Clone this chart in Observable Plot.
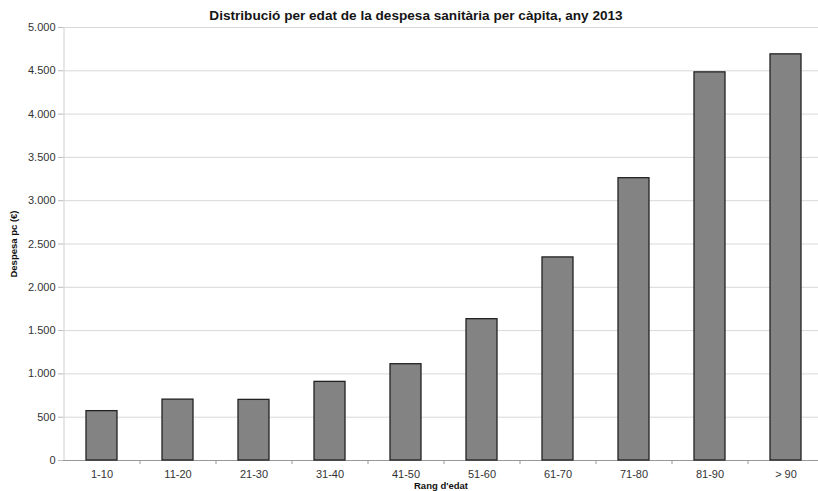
<!DOCTYPE html>
<html>
<head>
<meta charset="utf-8">
<script src="https://cdn.jsdelivr.net/npm/d3@7"></script>
<script src="https://cdn.jsdelivr.net/npm/@observablehq/plot@0.6"></script>
<style>
  html, body { margin: 0; padding: 0; background: #fff; overflow: hidden; }
  #wrap { position: relative; width: 818px; height: 491px; font-family: "Liberation Sans", Arial, sans-serif; }
  #title { position: absolute; top: 8px; left: 0; width: 832px; text-align: center; font-weight: bold; font-size: 13.6px; color: #151515; }
</style>
</head>
<body>
<div id="wrap">
  <div id="title">Distribució per edat de la despesa sanitària per càpita, any 2013</div>
</div>
<script>
const categories = ["1-10", "11-20", "21-30", "31-40", "41-50", "51-60", "61-70", "71-80", "81-90", "> 90"];
const values = [570, 703, 700, 908, 1112, 1632, 2345, 3260, 4482, 4690];
const yTicks = [0, 500, 1000, 1500, 2000, 2500, 3000, 3500, 4000, 4500, 5000];

const data = categories.map((c, i) => ({cat: c, val: values[i]}));
const fmt = d3.formatLocale({decimal: ",", thousands: ".", grouping: [3], currency: ["", "€"]}).format(",");

const chart = Plot.plot({
  width: 818,
  height: 491,
  marginTop: 27,
  marginBottom: 31,
  marginLeft: 63,
  marginRight: 0,
  style: {fontFamily: "Liberation Sans, Arial, sans-serif", fontSize: "11px", color: "#333", background: "transparent", overflow: "visible"},
  x: {domain: categories, range: [64, 824], paddingInner: 0.59, paddingOuter: 0.295},
  y: {domain: [0, 5000]},
  marks: [
    Plot.gridY(yTicks, {stroke: "#d8d8d8", strokeOpacity: 1, strokeWidth: 1}),
    Plot.ruleY([0], {stroke: "#999", strokeWidth: 1}),
    Plot.ruleX([0], {x: () => categories[0], dx: -38, y1: 0, y2: 5000, stroke: "#d0d0d0"}),
    Plot.ruleX(categories.slice(0, -1), {x: d => d, dx: 38, y1: 0, y2: 0, insetBottom: -4, stroke: "#999"}),
    Plot.barY(data, {x: "cat", y: "val", fill: "#838383", stroke: "#222", strokeWidth: 1.3}),
    Plot.axisY({ticks: yTicks, tickFormat: fmt, tickSize: 5, tickPadding: 3, stroke: "#bbb", label: "Despesa pc (€)", labelAnchor: "center", labelArrow: "none", labelOffset: 53, fill: "#333"}),
    Plot.axisX({tickSize: 0, tickPadding: 10, label: "Rang d'edat", labelAnchor: "center", labelArrow: "none", labelOffset: 28, fill: "#333"})
  ]
});
document.getElementById("wrap").prepend(chart);
chart.style.position = "absolute";
chart.style.top = "0";
chart.style.left = "0";
chart.querySelectorAll("[aria-label='y-axis label'] text, [aria-label='x-axis label'] text").forEach(t => { t.style.fontWeight = "bold"; t.style.fontSize = "9.5px"; t.style.fill = "#111"; });
</script>
</body>
</html>
